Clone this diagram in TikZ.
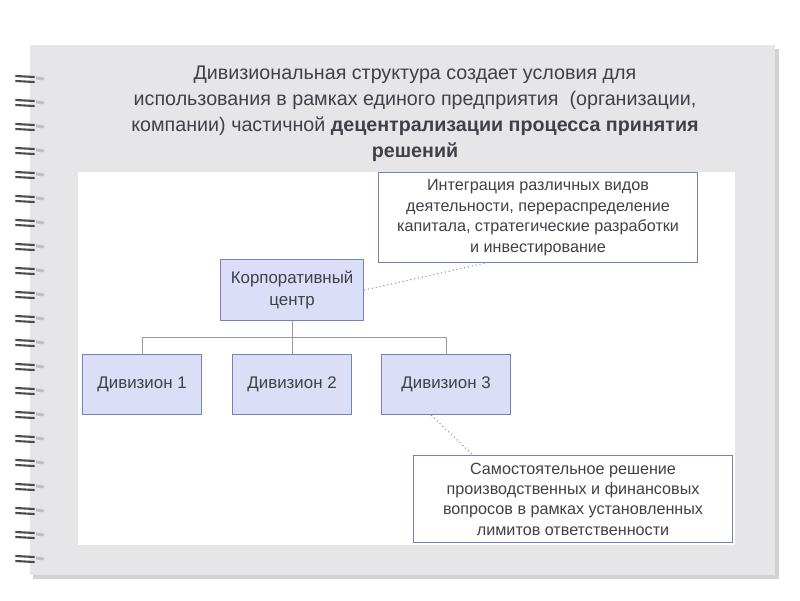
\documentclass[tikz,border=0pt]{standalone}
\usepackage{fontspec}
\setmainfont{Liberation Sans}
\begin{document}
\begin{tikzpicture}[x=0.025cm,y=-0.025cm,
 box/.style={draw=boxline,fill=boxfill,line width=0.8pt,inner sep=0pt,font=\fontsize{12pt}{16pt}\selectfont,text=txt,align=center},
 note/.style={draw=boxline,fill=white,line width=0.8pt,inner sep=0pt,font=\fontsize{11.5pt}{14.5pt}\selectfont,text=txt,align=center},
 conn/.style={draw=gray!80,line width=0.7pt},
 dotl/.style={draw=gray!80,dotted,line width=0.8pt},
 ring/.style={draw=gray!60!black,line width=1.5pt,line cap=round}]
\definecolor{boxline}{HTML}{7482B8}
\definecolor{boxfill}{HTML}{DCDDF6}
\definecolor{txt}{HTML}{404048}
\definecolor{sheet}{HTML}{E6E6E9}
\fill[white] (0,0) rectangle (800,600);
\useasboundingbox (0,0) rectangle (800,600);
\fill[gray!35] (33,49) rectangle (779,579);
\fill[sheet] (30,45) rectangle (775,575);
\fill[white] (78,172) rectangle (735,545);
\foreach \y in {76,100,...,560}{
  \draw[ring] (16,\y) -- (34,\y+1);
  \draw[ring] (16,\y+5) -- (34,\y+6);
  \draw[gray!50,line width=2pt] (36,\y+2) -- (44,\y+3);
}
\node[font=\fontsize{14pt}{18.5pt}\selectfont,text=txt,align=center] (title) at (415,114)
{Дивизиональная структура создает условия для\\использования в рамках единого предприятия \ (организации,\\компании) частичной \textbf{децентрализации процесса принятия}\\\textbf{решений}};
\node[box,anchor=north west,minimum width=143*0.025cm,minimum height=61*0.025cm] (corp) at (220,259) {Корпоративный\\центр};
\node[box,anchor=north west,minimum width=119*0.025cm,minimum height=60*0.025cm] (d1) at (82,354) {Дивизион 1};
\node[box,anchor=north west,minimum width=119*0.025cm,minimum height=60*0.025cm] (d2) at (232,354) {Дивизион 2};
\node[box,anchor=north west,minimum width=129*0.025cm,minimum height=60*0.025cm] (d3) at (381,354) {Дивизион 3};
\node[note,anchor=north west,minimum width=319*0.025cm,minimum height=90*0.025cm] (n1) at (378,172)
{Интеграция различных видов\\деятельности, перераспределение\\капитала, стратегические разработки\\и инвестирование};
\node[note,anchor=north west,minimum width=319*0.025cm,minimum height=87*0.025cm] (n2) at (413,455)
{Самостоятельное решение\\производственных и финансовых\\вопросов в рамках установленных\\лимитов ответственности};
\coordinate (j) at (corp.south |- 0,337);
\draw[conn] (corp.south) -- (j);
\draw[conn] (d1.north) |- (j) -| (d3.north);
\draw[conn] (d2.north) -- (d2.north |- j);
\draw[dotl] (corp.east) -- ([xshift=107*0.025cm]n1.south west);
\draw[dotl] ([xshift=-15*0.025cm]d3.south) -- ([xshift=60*0.025cm]n2.north west);
\end{tikzpicture}
\end{document}
